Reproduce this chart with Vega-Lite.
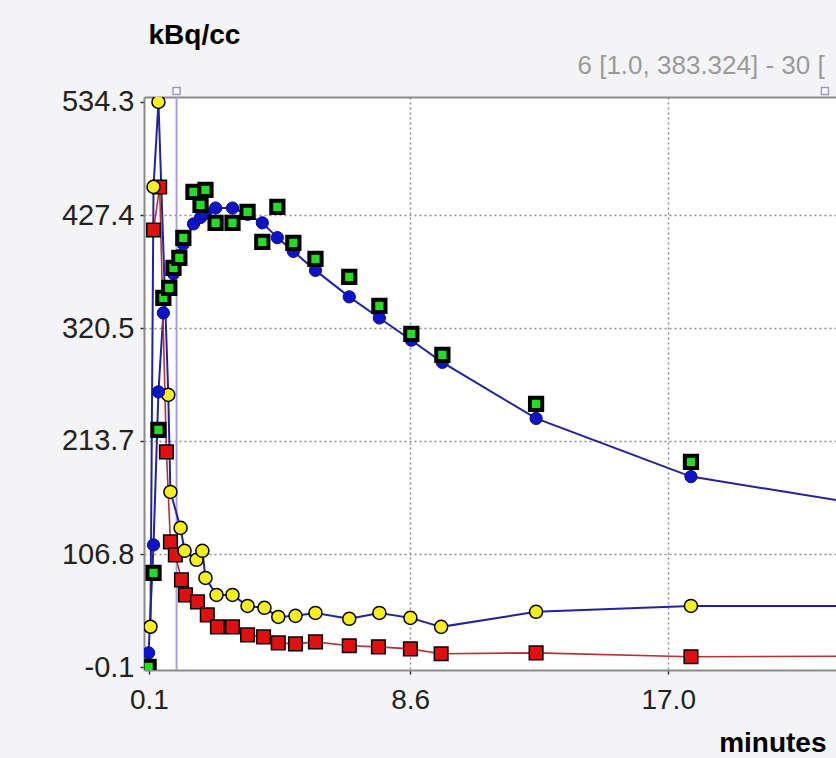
{
  "$schema": "https://vega.github.io/schema/vega-lite/v6.json",
  "width": 692,
  "height": 573,
  "autosize": "none",
  "padding": {"left": 144, "top": 97, "right": 0, "bottom": 88},
  "background": "#f4f4f6",
  "config": {"view": {"stroke": null, "fill": "white"}, "font": "Liberation Sans"},
  "data": {
    "values": [
      {"series": "handle", "t": 1.0, "v": 539},
      {"series": "handle", "t": 22.1, "v": 539},
      {"series": "marker", "t": 1.0, "v": 539, "v2": -2.9},

      {"series": "tissue", "t": 0.09, "v": 0},
      {"series": "tissue", "t": 0.25, "v": 88.9},
      {"series": "tissue", "t": 0.41, "v": 224.2},
      {"series": "tissue", "t": 0.57, "v": 349.0},
      {"series": "tissue", "t": 0.76, "v": 358.4},
      {"series": "tissue", "t": 0.90, "v": 377.3},
      {"series": "tissue", "t": 1.09, "v": 386.8},
      {"series": "tissue", "t": 1.22, "v": 405.7},
      {"series": "tissue", "t": 1.55, "v": 449.2},
      {"series": "tissue", "t": 1.78, "v": 436.9},
      {"series": "tissue", "t": 1.94, "v": 451.1},
      {"series": "tissue", "t": 2.27, "v": 419.9},
      {"series": "tissue", "t": 2.82, "v": 419.9},
      {"series": "tissue", "t": 3.31, "v": 430.3},
      {"series": "tissue", "t": 3.79, "v": 401.9},
      {"series": "tissue", "t": 4.28, "v": 435.0},
      {"series": "tissue", "t": 4.80, "v": 401.0},
      {"series": "tissue", "t": 5.52, "v": 385.9},
      {"series": "tissue", "t": 6.62, "v": 368.8},
      {"series": "tissue", "t": 7.60, "v": 341.4},
      {"series": "tissue", "t": 8.64, "v": 314.9},
      {"series": "tissue", "t": 9.65, "v": 295.1},
      {"series": "tissue", "t": 12.70, "v": 248.8},
      {"series": "tissue", "t": 17.74, "v": 193.9},

      {"series": "fit", "t": 0.09, "v": 13.3},
      {"series": "fit", "t": 0.25, "v": 115.4},
      {"series": "fit", "t": 0.41, "v": 260.1},
      {"series": "fit", "t": 0.57, "v": 334.8},
      {"series": "fit", "t": 0.76, "v": 358},
      {"series": "fit", "t": 0.90, "v": 372},
      {"series": "fit", "t": 1.09, "v": 389},
      {"series": "fit", "t": 1.22, "v": 400},
      {"series": "fit", "t": 1.55, "v": 419},
      {"series": "fit", "t": 1.78, "v": 425},
      {"series": "fit", "t": 1.94, "v": 429},
      {"series": "fit", "t": 2.27, "v": 434},
      {"series": "fit", "t": 2.82, "v": 434},
      {"series": "fit", "t": 3.31, "v": 428},
      {"series": "fit", "t": 3.79, "v": 420},
      {"series": "fit", "t": 4.28, "v": 406},
      {"series": "fit", "t": 4.80, "v": 393},
      {"series": "fit", "t": 5.52, "v": 375},
      {"series": "fit", "t": 6.62, "v": 350},
      {"series": "fit", "t": 7.60, "v": 330},
      {"series": "fit", "t": 8.64, "v": 309},
      {"series": "fit", "t": 9.65, "v": 288},
      {"series": "fit", "t": 12.70, "v": 235},
      {"series": "fit", "t": 17.74, "v": 180},
      {"series": "fit", "t": 25.4, "v": 144},

      {"series": "plasma", "t": 0.15, "v": 38.0},
      {"series": "plasma", "t": 0.25, "v": 454.0},
      {"series": "plasma", "t": 0.41, "v": 534.3},
      {"series": "plasma", "t": 0.73, "v": 257.3},
      {"series": "plasma", "t": 0.80, "v": 165.5},
      {"series": "plasma", "t": 1.13, "v": 131.5},
      {"series": "plasma", "t": 1.26, "v": 109.8},
      {"series": "plasma", "t": 1.65, "v": 101.3},
      {"series": "plasma", "t": 1.84, "v": 109.8},
      {"series": "plasma", "t": 1.94, "v": 84.2},
      {"series": "plasma", "t": 2.30, "v": 68.1},
      {"series": "plasma", "t": 2.82, "v": 68.1},
      {"series": "plasma", "t": 3.31, "v": 57.7},
      {"series": "plasma", "t": 3.86, "v": 55.9},
      {"series": "plasma", "t": 4.31, "v": 47.3},
      {"series": "plasma", "t": 4.87, "v": 48.3},
      {"series": "plasma", "t": 5.52, "v": 51.1},
      {"series": "plasma", "t": 6.62, "v": 45.5},
      {"series": "plasma", "t": 7.60, "v": 51.1},
      {"series": "plasma", "t": 8.61, "v": 46.4},
      {"series": "plasma", "t": 9.61, "v": 37.9},
      {"series": "plasma", "t": 12.70, "v": 52.1},
      {"series": "plasma", "t": 17.74, "v": 57.7},
      {"series": "plasma", "t": 25.4, "v": 57.7},

      {"series": "parent", "t": 0.25, "v": 413.2},
      {"series": "parent", "t": 0.45, "v": 453.9},
      {"series": "parent", "t": 0.67, "v": 203.4},
      {"series": "parent", "t": 0.80, "v": 118.3},
      {"series": "parent", "t": 0.96, "v": 106.0},
      {"series": "parent", "t": 1.16, "v": 82.3},
      {"series": "parent", "t": 1.29, "v": 68.1},
      {"series": "parent", "t": 1.68, "v": 61.5},
      {"series": "parent", "t": 2.00, "v": 49.2},
      {"series": "parent", "t": 2.33, "v": 37.9},
      {"series": "parent", "t": 2.82, "v": 37.9},
      {"series": "parent", "t": 3.31, "v": 30.3},
      {"series": "parent", "t": 3.83, "v": 28.4},
      {"series": "parent", "t": 4.31, "v": 22.8},
      {"series": "parent", "t": 4.87, "v": 21.8},
      {"series": "parent", "t": 5.52, "v": 23.7},
      {"series": "parent", "t": 6.62, "v": 20.0},
      {"series": "parent", "t": 7.57, "v": 19.0},
      {"series": "parent", "t": 8.61, "v": 17.1},
      {"series": "parent", "t": 9.61, "v": 12.4},
      {"series": "parent", "t": 12.70, "v": 13.3},
      {"series": "parent", "t": 17.74, "v": 9.6},
      {"series": "parent", "t": 25.4, "v": 10.5}
    ]
  },
  "layer": [
    {
      "encoding": {
        "x": {
          "field": "t", "type": "quantitative",
          "scale": {"domain": [-0.06, 22.46], "nice": false, "zero": false},
          "axis": {
            "orient": "bottom",
            "values": [0.1, 8.6, 17.0], "format": ".1f",
            "title": "minutes", "titleAlign": "right", "titleBaseline": "middle",
            "titleX": 682, "titleY": 73,
            "titleFont": "Liberation Sans", "titleFontSize": 28, "titleFontWeight": "bold", "titleColor": "#000",
            "labelFont": "Liberation Sans", "labelFontSize": 28, "labelColor": "#222",
            "labelPadding": 12, "labelFlush": false, "labelBound": false, "labelOverlap": false,
            "tickSize": 4, "tickColor": "#333", "tickWidth": 1.5,
            "domainColor": "#8a8a8a", "domainWidth": 2,
            "grid": true, "gridColor": "#8c8c8c", "gridDash": [2, 3], "gridWidth": 1.5,
            "gridOpacity": {"condition": {"test": "datum.value < 1", "value": 0}, "value": 1}
          }
        },
        "y": {
          "field": "v", "type": "quantitative",
          "scale": {"domain": [-2.9, 539.0], "nice": false, "zero": false},
          "axis": {
            "values": [-0.1, 106.8, 213.7, 320.5, 427.4, 534.3],
            "labelExpr": "replace(format(datum.value, '.1f'), '\u2212', '-')",
            "title": "kBq/cc", "titleAngle": 0, "titleAlign": "left", "titleBaseline": "middle",
            "titleX": 4, "titleY": -62,
            "titleFont": "Liberation Sans", "titleFontSize": 28, "titleFontWeight": "bold", "titleColor": "#000",
            "labelFont": "Liberation Sans", "labelFontSize": 29, "labelColor": "#222",
            "labelPadding": 6, "labelFlush": false, "labelBound": false, "labelOverlap": false,
            "tickSize": 4, "tickColor": "#333", "tickWidth": 1.5,
            "domainColor": "#8a8a8a", "domainWidth": 2,
            "grid": true, "gridColor": "#8c8c8c", "gridDash": [2, 3], "gridWidth": 1.5,
            "gridOpacity": {"condition": {"test": "datum.value > 500 || datum.value < 1", "value": 0}, "value": 1}
          }
        }
      },
      "layer": [
        {
          "transform": [{"filter": "datum.series === 'marker'"}],
          "mark": {"type": "rule", "color": "#a4a4cc", "strokeWidth": 2},
          "encoding": {"y2": {"field": "v2"}}
        },
        {
          "transform": [{"filter": "datum.series === 'fit'"}],
          "mark": {"type": "line", "color": "#2222a0", "strokeWidth": 2, "clip": true}
        },
        {
          "transform": [{"filter": "datum.series === 'plasma'"}],
          "mark": {"type": "line", "color": "#2222a0", "strokeWidth": 2, "clip": true}
        },
        {
          "transform": [{"filter": "datum.series === 'parent'"}],
          "mark": {"type": "line", "color": "#b83030", "strokeWidth": 1.6, "clip": true}
        },
        {
          "transform": [{"filter": "datum.series === 'parent'"}],
          "mark": {"type": "point", "shape": "square", "filled": true, "fill": "#e01010", "stroke": "#000", "strokeWidth": 1.5, "size": 185, "opacity": 1, "clip": true}
        },
        {
          "transform": [{"filter": "datum.series === 'plasma'"}],
          "mark": {"type": "point", "shape": "circle", "filled": true, "fill": "#f6ee1e", "stroke": "#000", "strokeWidth": 1.5, "size": 170, "opacity": 1, "clip": true}
        },
        {
          "transform": [{"filter": "datum.series === 'fit'"}],
          "mark": {"type": "point", "shape": "circle", "filled": true, "fill": "#0c14c8", "stroke": "#10107a", "strokeWidth": 1, "size": 150, "opacity": 1, "clip": true}
        },
        {
          "transform": [{"filter": "datum.series === 'tissue'"}],
          "mark": {"type": "point", "shape": "square", "filled": true, "fill": "#22dd22", "stroke": "#000", "strokeWidth": 4, "size": 150, "opacity": 1, "clip": true}
        }
      ]
    },
    {
      "transform": [{"filter": "datum.series === 'handle'"}],
      "mark": {"type": "point", "shape": "square", "filled": true, "fill": "#ffffff", "stroke": "#9a9ac8", "strokeWidth": 1.5, "size": 50, "opacity": 1, "clip": false, "yOffset": -6},
      "encoding": {
        "x": {
          "field": "t", "type": "quantitative",
          "scale": {"domain": [-0.06, 22.46], "nice": false, "zero": false},
          "axis": {
            "orient": "top", "labels": false, "ticks": false, "grid": false,
            "domainColor": "#8a8a8a", "domainWidth": 2,
            "title": "6 [1.0, 383.324] - 30 [",
            "titleAlign": "left", "titleBaseline": "middle", "titleX": 433, "titleY": -32,
            "titleFont": "Liberation Sans", "titleFontSize": 26, "titleFontWeight": "normal", "titleColor": "#9a9a9a"
          }
        },
        "y": {
          "field": "v", "type": "quantitative",
          "scale": {"domain": [-2.9, 539.0], "nice": false, "zero": false},
          "axis": null
        }
      }
    }
  ],
  "resolve": {"axis": {"x": "independent", "y": "independent"}}
}
